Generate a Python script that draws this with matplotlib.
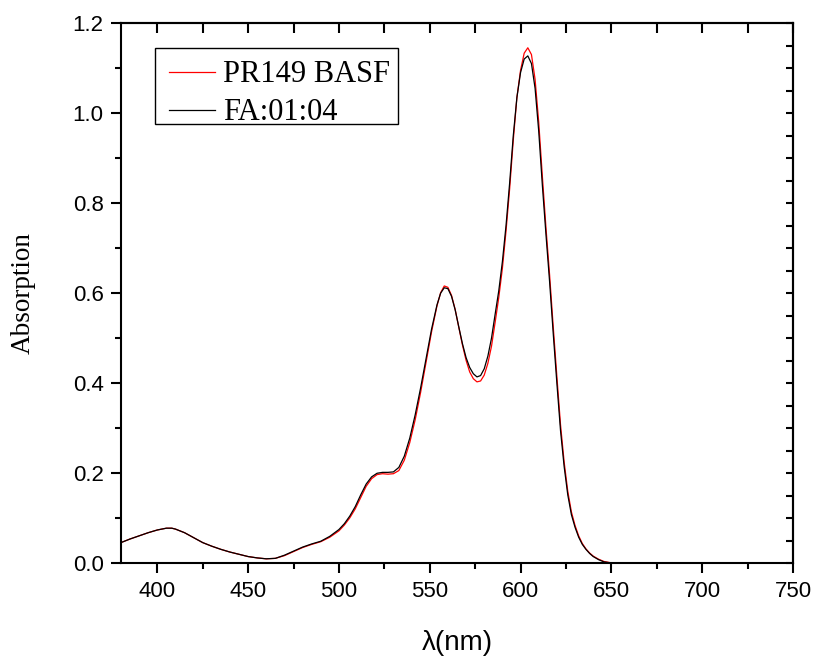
import matplotlib
matplotlib.use("Agg")
import matplotlib.pyplot as plt
from matplotlib.patches import Rectangle
from matplotlib.ticker import MultipleLocator, NullFormatter, FormatStrFormatter

# Absorption spectra: wavelength (nm) and absorbance of two samples
wavelength = [380, 385, 390, 395, 400, 405, 408, 410, 415, 420, 425, 430, 435,
              440, 445, 450, 455, 460, 465, 470, 475, 480, 485, 490, 495, 500,
              503, 506, 509, 512, 515, 518, 521, 524, 527, 530, 533, 536, 539,
              542, 545, 548, 551, 554, 556, 558, 560, 562, 564, 566, 568, 570,
              572, 574, 576, 578, 580, 582, 584, 586, 588, 590, 592, 594, 596,
              598, 600, 602, 604, 606, 608, 610, 612, 614, 616, 618, 620, 622,
              624, 626, 628, 630, 632, 634, 636, 638, 640, 643, 646, 650, 655]

pr149_basf = [0.046, 0.054, 0.061, 0.068, 0.074, 0.078, 0.078, 0.076, 0.068,
              0.057, 0.046, 0.038, 0.031, 0.025, 0.020, 0.015, 0.012, 0.010,
              0.011, 0.017, 0.026, 0.035, 0.042, 0.048, 0.058, 0.072, 0.085,
              0.101, 0.121, 0.146, 0.171, 0.188, 0.197, 0.199, 0.198, 0.199,
              0.206, 0.229, 0.268, 0.319, 0.380, 0.447, 0.514, 0.572, 0.601,
              0.616, 0.613, 0.595, 0.564, 0.524, 0.485, 0.451, 0.425, 0.410,
              0.403, 0.405, 0.418, 0.444, 0.482, 0.535, 0.590, 0.655, 0.738,
              0.832, 0.940, 1.035, 1.095, 1.133, 1.145, 1.130, 1.075, 0.980,
              0.860, 0.745, 0.640, 0.525, 0.415, 0.308, 0.225, 0.160, 0.114,
              0.084, 0.061, 0.044, 0.032, 0.023, 0.016, 0.009, 0.004, 0.001,
              0.000]

fa_01_04 = [0.046, 0.054, 0.061, 0.068, 0.074, 0.078, 0.078, 0.076, 0.068,
            0.057, 0.046, 0.038, 0.031, 0.025, 0.020, 0.015, 0.012, 0.010,
            0.011, 0.018, 0.027, 0.036, 0.043, 0.049, 0.060, 0.075, 0.088,
            0.105, 0.126, 0.152, 0.176, 0.192, 0.200, 0.202, 0.202, 0.203,
            0.213, 0.238, 0.278, 0.330, 0.390, 0.455, 0.520, 0.574, 0.600,
            0.612, 0.610, 0.593, 0.563, 0.525, 0.488, 0.457, 0.435, 0.421,
            0.414, 0.417, 0.432, 0.460, 0.500, 0.553, 0.605, 0.670, 0.750,
            0.845, 0.950, 1.035, 1.090, 1.120, 1.127, 1.110, 1.055, 0.960,
            0.840, 0.730, 0.625, 0.510, 0.400, 0.295, 0.215, 0.152, 0.108,
            0.080, 0.058, 0.042, 0.031, 0.022, 0.015, 0.008, 0.003, 0.0008,
            0.000]

series_labels = ["PR149 BASF", "FA:01:04"]

sans = ["Liberation Sans", "DejaVu Sans"]
serif = ["Liberation Serif", "DejaVu Serif"]

fig = plt.figure(figsize=(8.14, 6.56), dpi=100)
ax = fig.add_axes([0.1486, 0.1413, 0.8256, 0.8236])

ax.plot(wavelength, pr149_basf, color="#ff0000", lw=0.9, label=series_labels[0])
ax.plot(wavelength, fa_01_04, color="#000000", lw=0.9, label=series_labels[1])

ax.set_xlim(380, 750)
ax.set_ylim(0, 1.2)

ax.xaxis.set_major_locator(MultipleLocator(50))
ax.xaxis.set_minor_locator(MultipleLocator(25))
ax.yaxis.set_major_locator(MultipleLocator(0.2))
ax.yaxis.set_minor_locator(MultipleLocator(0.1))
ax.yaxis.set_major_formatter(FormatStrFormatter("%.1f"))

for s in ax.spines.values():
    s.set_linewidth(1.5)

ax.tick_params(which="major", direction="out", length=7.5, width=1.5,
               labelsize=16, pad=5, top=False, right=False)
ax.tick_params(which="minor", direction="out", length=4, width=1.5,
               top=False, right=False)
for lab in ax.get_xticklabels() + ax.get_yticklabels():
    lab.set_family(sans)

# inward ticks along the top and right edges
top = ax.secondary_xaxis("top")
top.xaxis.set_major_locator(MultipleLocator(25))
top.xaxis.set_major_formatter(NullFormatter())
top.tick_params(direction="in", length=7, width=1.5)
top.spines["top"].set_linewidth(1.5)

right = ax.secondary_yaxis("right")
right.yaxis.set_major_locator(MultipleLocator(0.05))
right.yaxis.set_major_formatter(NullFormatter())
right.tick_params(direction="in", length=5, width=1.5)
right.spines["right"].set_linewidth(1.5)

ax.set_xlabel("λ(nm)", family=sans, fontsize=20)
ax.xaxis.set_label_coords(0.5, -0.124)
ax.set_ylabel("Absorption", family=serif, fontsize=19.5)
ax.yaxis.set_label_coords(-0.127, 0.5)

# legend box drawn as a plain rectangle, entries placed inside it
ax.add_patch(Rectangle((0.0506, 0.8126), 0.3612, 0.1404, transform=ax.transAxes,
                       facecolor="white", edgecolor="black", lw=1.0, zorder=4))
leg = ax.legend(loc="upper left", bbox_to_anchor=(0.0714, 0.931),
                borderaxespad=0, borderpad=0, prop={"family": serif, "size": 22},
                handlelength=1.5, handletextpad=0.27, labelspacing=0.3,
                frameon=False)
leg.set_zorder(5)

fig.savefig("out.png", dpi=100)
